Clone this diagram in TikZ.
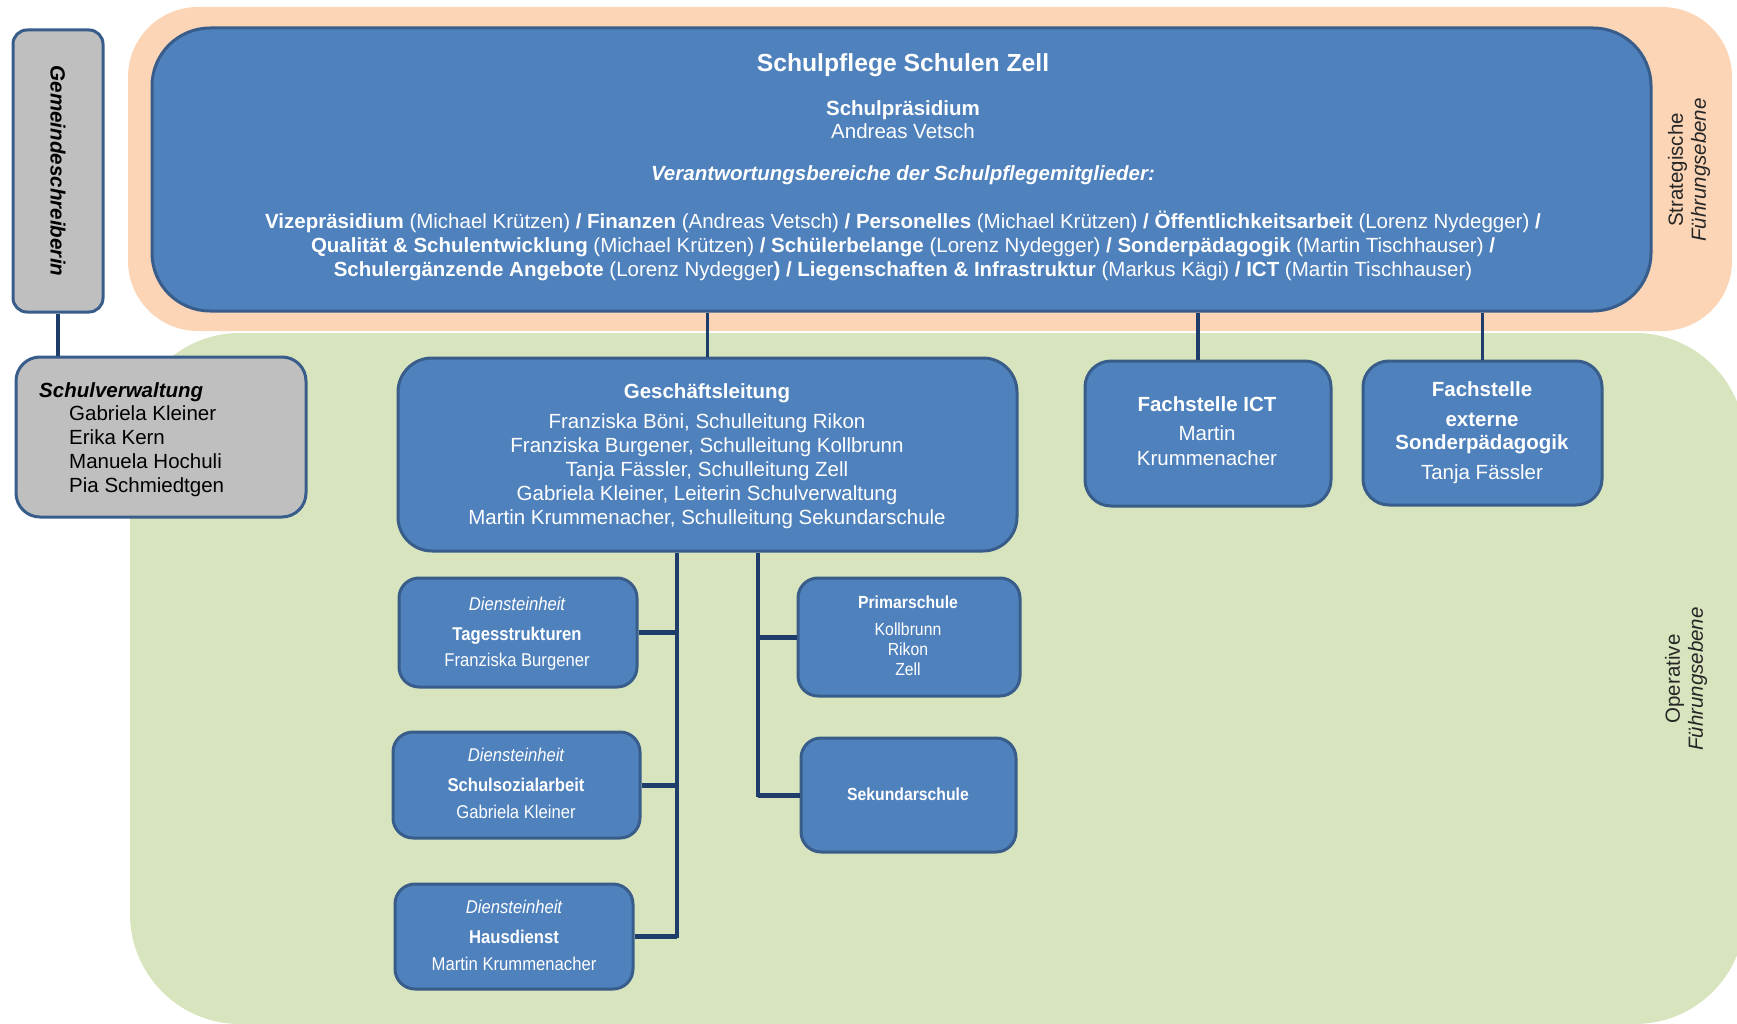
\documentclass[tikz,border=0pt]{standalone}
\usepackage{fontspec}
\setmainfont{Liberation Sans}
\newfontfamily\narrowfam[FakeStretch=0.9]{Liberation Sans}
\definecolor{peach}{HTML}{FBD5B5}
\definecolor{sage}{HTML}{D7E4BD}
\definecolor{boxblue}{HTML}{4F81BD}
\definecolor{bordc}{HTML}{385D8A}
\definecolor{linec}{HTML}{1F3D6B}
\definecolor{boxgray}{HTML}{BFBFBF}
\definecolor{lbl}{HTML}{262626}
\newcommand\fMain{\fontsize{20.5}{24}\selectfont}
\newcommand\fTitle{\fontsize{24.7}{28}\selectfont}
\newcommand\fSmall{\narrowfam\fontsize{18.5}{22}\selectfont}
\newcommand\fPrim{\narrowfam\fontsize{17.5}{20}\selectfont}
\begin{document}
\begin{tikzpicture}[x=1pt,y=-1pt,
  bluebox/.style={draw=bordc, fill=boxblue, line width=3, inner sep=0},
  graybox/.style={draw=bordc, fill=boxgray, line width=3, inner sep=0},
  conn/.style={draw=linec, line width=3.5},
  branch/.style={draw=linec, line width=5},
  wt/.style={anchor=base, inner sep=0, text=white},
  bt/.style={anchor=base west, inner sep=0, text=black},
  lvl/.style={rotate=90, align=center, inner sep=0, text=lbl, font=\fontsize{20.5}{23}\selectfont}]
\useasboundingbox (0,0) rectangle (1737,1024);
\begin{scope}
\clip (0,0) rectangle (1737,1024);
\fill[peach, rounded corners=70] (128,7) rectangle (1732,331);
\fill[sage, rounded corners=110] (130,333) rectangle (1745,1024);
\end{scope}

% level labels
\node[lvl] (strat) at (1689,170) {Strategische\\\textit{Führungsebene}};
\node[lvl] (oper) at (1686,679) {Operative\\\textit{Führungsebene}};

% boxes
\node[bluebox, rounded corners=58, minimum width=1499, minimum height=283] (pflege) at (901.5,169.5) {};
\node[graybox, rounded corners=14, minimum width=90, minimum height=282] (gemeinde) at (58,171) {};
\node[graybox, rounded corners=24, minimum width=290, minimum height=160] (sv) at (161,437) {};
\node[bluebox, rounded corners=34, minimum width=619, minimum height=193] (gl) at (707.5,454.5) {};
\node[bluebox, rounded corners=26, minimum width=246, minimum height=145] (ict) at (1208,433.5) {};
\node[bluebox, rounded corners=26, minimum width=239, minimum height=144] (ext) at (1482.5,433) {};
\node[bluebox, rounded corners=20, minimum width=238, minimum height=109] (tages) at (518,632.5) {};
\node[bluebox, rounded corners=20, minimum width=247, minimum height=106] (sozial) at (516.5,785) {};
\node[bluebox, rounded corners=20, minimum width=238, minimum height=105] (haus) at (514,936.5) {};
\node[bluebox, rounded corners=20, minimum width=222, minimum height=118] (prim) at (909,637) {};
\node[bluebox, rounded corners=20, minimum width=215, minimum height=114] (sek) at (908.5,795) {};

% connectors
\coordinate (lt) at (677,938);
\coordinate (rt) at (758,797);
\draw[conn] (gemeinde.south) -- (gemeinde.south |- sv.north);
\draw[conn] (pflege.south -| gl.north) -- (gl.north);
\draw[conn] (pflege.south -| ict.north) ++(-10,0) coordinate (ictA) -- (ictA |- ict.north);
\draw[conn] (pflege.south -| ext.north) -- (ext.north);
\draw[conn] (lt |- gl.south) -- (lt);
\draw[conn] (rt |- gl.south) -- (rt);
\draw[branch] (tages.east) -- (tages.east -| lt);
\draw[branch] (sozial.east) -- (sozial.east -| lt);
\draw[branch] (haus.east) -- (haus.east -| lt);
\draw[branch] (prim.west) -- (prim.west -| rt);
\draw[branch] (sek.west) -- (sek.west -| rt);

% Gemeindeschreiberin
\node[rotate=-90, inner sep=0, text=black, font=\bfseries\itshape\fontsize{20.6}{24}\selectfont] (gtext) at (gemeinde) {Gemeindeschreiberin};

% Schulverwaltung
\node[bt, font=\bfseries\itshape\fMain] (sv0) at (39,397) {Schulverwaltung};
\node[bt, font=\fMain] (sv1) at (69,420) {Gabriela Kleiner};
\node[bt, font=\fMain] (sv2) at (69,444) {Erika Kern};
\node[bt, font=\fMain] (sv3) at (69,468) {Manuela Hochuli};
\node[bt, font=\fMain] (sv4) at (69,492) {Pia Schmiedtgen};

% Schulpflege
\node[wt, font=\bfseries\fTitle] (p0) at (903,72) {Schulpflege Schulen Zell};
\node[wt, font=\bfseries\fMain] (p1) at (903,116) {Schulpräsidium};
\node[wt, font=\fMain] (p2) at (903,139) {Andreas Vetsch};
\node[wt, font=\bfseries\itshape\fMain] (p3) at (903,181) {Verantwortungsbereiche der Schulpflegemitglieder:};
\node[wt, font=\fMain] (p4) at (903,229) {\textbf{Vizepräsidium} (Michael Krützen) \textbf{/ Finanzen} (Andreas Vetsch) \textbf{/ Personelles} (Michael Krützen) \textbf{/ Öffentlichkeitsarbeit} (Lorenz Nydegger) \textbf{/}};
\node[wt, font=\fMain] (p5) at (903,253) {\textbf{Qualität \& Schulentwicklung} (Michael Krützen) \textbf{/ Schülerbelange} (Lorenz Nydegger) \textbf{/ Sonderpädagogik} (Martin Tischhauser) \textbf{/}};
\node[wt, font=\fMain] (p6) at (903,277) {\textbf{Schulergänzende Angebote} (Lorenz Nydegger\textbf{)} \textbf{/ Liegenschaften \& Infrastruktur} (Markus Kägi) \textbf{/ ICT} (Martin Tischhauser)};

% Geschaeftsleitung
\node[wt, font=\bfseries\fMain] (g0) at (707,398) {Geschäftsleitung};
\node[wt, font=\fMain] (g1) at (707,428) {Franziska Böni, Schulleitung Rikon};
\node[wt, font=\fMain] (g2) at (707,452) {Franziska Burgener, Schulleitung Kollbrunn};
\node[wt, font=\fMain] (g3) at (707,476) {Tanja Fässler, Schulleitung Zell};
\node[wt, font=\fMain] (g4) at (707,500) {Gabriela Kleiner, Leiterin Schulverwaltung};
\node[wt, font=\fMain] (g5) at (707,524) {Martin Krummenacher, Schulleitung Sekundarschule};

% Fachstellen
\node[wt, font=\bfseries\fMain] (i0) at (1207,411) {Fachstelle ICT};
\node[wt, font=\fMain] (i1) at (1207,440) {Martin};
\node[wt, font=\fMain] (i2) at (1207,465) {Krummenacher};
\node[wt, font=\bfseries\fMain] (e0) at (1482,396) {Fachstelle};
\node[wt, font=\bfseries\fMain] (e1) at (1482,426) {externe};
\node[wt, font=\bfseries\fMain] (e2) at (1482,449) {Sonderpädagogik};
\node[wt, font=\fMain] (e3) at (1482,479) {Tanja Fässler};

% Dienststellen
\node[wt, font=\itshape\fSmall] (d0) at (517,610) {Diensteinheit};
\node[wt, font=\bfseries\fSmall] (d1) at (517,640) {Tagesstrukturen};
\node[wt, font=\fSmall] (d2) at (517,666) {Franziska Burgener};
\node[wt, font=\itshape\fSmall] (s0) at (516,761) {Diensteinheit};
\node[wt, font=\bfseries\fSmall] (s1) at (516,791) {Schulsozialarbeit};
\node[wt, font=\fSmall] (s2) at (516,818) {Gabriela Kleiner};
\node[wt, font=\itshape\fSmall] (h0) at (514,913) {Diensteinheit};
\node[wt, font=\bfseries\fSmall] (h1) at (514,943) {Hausdienst};
\node[wt, font=\fSmall] (h2) at (514,970) {Martin Krummenacher};

% Schulen
\node[wt, font=\bfseries\fPrim] (pr0) at (908,608) {Primarschule};
\node[wt, font=\fPrim] (pr1) at (908,635) {Kollbrunn};
\node[wt, font=\fPrim] (pr2) at (908,655) {Rikon};
\node[wt, font=\fPrim] (pr3) at (908,675) {Zell};
\node[wt, font=\bfseries\fPrim] (sk0) at (908,800) {Sekundarschule};
\end{tikzpicture}
\end{document}
